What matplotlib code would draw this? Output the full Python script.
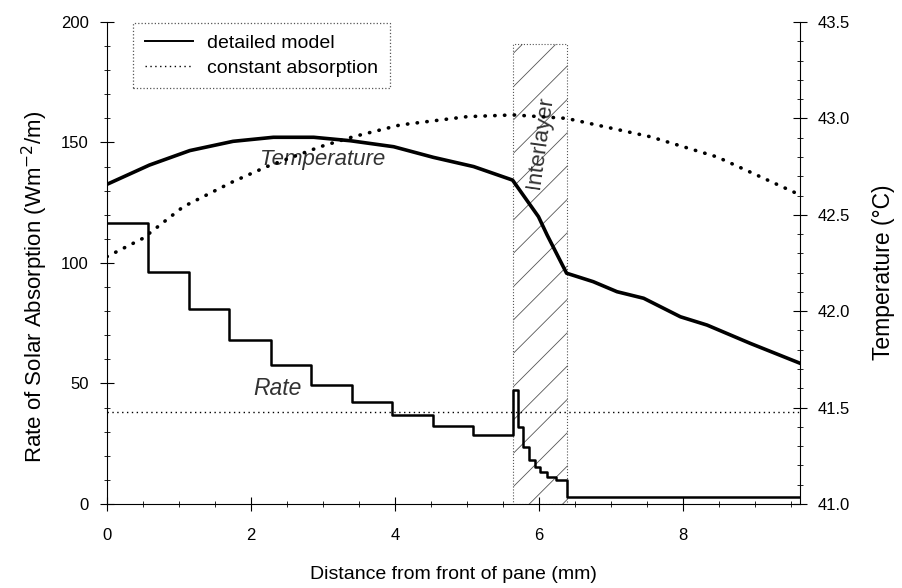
import numpy as np
import matplotlib.pyplot as plt
from matplotlib.lines import Line2D
from matplotlib.ticker import MultipleLocator

plt.rcParams['font.family'] = ['Liberation Sans', 'DejaVu Sans']
plt.rcParams['hatch.linewidth'] = 0.6
plt.rcParams['hatch.color'] = '#444444'

# rate of solar absorption, detailed model (step edges in mm, level per step)
rate_edges = [0, 0.57, 1.14, 1.70, 2.27, 2.83, 3.40, 3.96, 4.52, 5.08, 5.64,
              5.71, 5.78, 5.86, 5.94, 6.01, 6.11, 6.24, 6.39, 9.62]
rate_vals = [116.6, 96.3, 80.8, 67.9, 57.8, 49.2, 42.3, 36.8, 32.2, 28.5,
             47.3, 32.1, 23.5, 18.3, 15.5, 13.4, 11.3, 10.0, 3.0]
rate_const = 38.0

# temperature, detailed model
temp_x = [0, 0.59, 1.15, 1.75, 2.31, 2.87, 3.38, 3.98, 4.53, 5.09, 5.63,
          5.99, 6.11, 6.38, 6.75, 7.08, 7.45, 7.96, 8.33, 8.93, 9.62]
temp_y = [42.658, 42.758, 42.833, 42.881, 42.902, 42.902, 42.884, 42.853,
          42.798, 42.750, 42.680, 42.490, 42.395, 42.197, 42.153, 42.101,
          42.067, 41.971, 41.928, 41.833, 41.730]

# temperature, constant absorption
tc_x = [0, 0.5, 1.06, 1.75, 2.22, 2.96, 3.42, 4.07, 5.0, 5.64, 6.38,
        7.54, 8.47, 9.58]
tc_y = [42.283, 42.378, 42.542, 42.672, 42.750, 42.853, 42.905, 42.966,
        43.009, 43.018, 43.0, 42.905, 42.80, 42.61]

inter_x0, inter_x1, inter_top = 5.635, 6.38, 191

fig = plt.figure(figsize=(9.02, 5.88), dpi=100)
ax = fig.add_axes([0.1186, 0.1429, 0.7683, 0.8197])
ax2 = ax.twinx()

ax.bar(inter_x0, inter_top, width=inter_x1 - inter_x0, align='edge',
       fill=False, hatch='/', edgecolor='#555555', linewidth=0.8,
       linestyle=':', zorder=1)

ax.step(rate_edges, rate_vals + [rate_vals[-1]], where='post',
        color='black', lw=1.8, zorder=3)
ax.axhline(rate_const, color='black', lw=1.0, ls=(0, (1, 2.5)), zorder=2)

ax2.plot(temp_x, temp_y, color='black', lw=2.6, zorder=3)
ax2.plot(tc_x, tc_y, color='black', lw=2.6, ls=(0, (0.1, 2.6)),
         dash_capstyle='round', zorder=3)

ax.set_xlim(0, 9.62)
ax.set_ylim(0, 200)
ax2.set_ylim(41.0, 43.5)

ax.xaxis.set_major_locator(MultipleLocator(2))
ax.xaxis.set_minor_locator(MultipleLocator(0.5))
ax.yaxis.set_major_locator(MultipleLocator(50))
ax.yaxis.set_minor_locator(MultipleLocator(10))
ax2.yaxis.set_major_locator(MultipleLocator(0.5))
ax2.yaxis.set_minor_locator(MultipleLocator(0.1))
ax2.yaxis.set_major_formatter(plt.FormatStrFormatter('%.1f'))

for a in (ax, ax2):
    a.spines['top'].set_visible(False)
    a.tick_params(which='major', direction='inout', length=10, width=0.8,
                  labelsize=12, pad=8)
    a.tick_params(which='minor', direction='inout', length=4, width=0.6)
ax.tick_params(axis='x', which='major', pad=12)
ax.spines['right'].set_visible(False)
ax2.spines['left'].set_visible(False)
ax2.spines['bottom'].set_visible(False)

ax.set_xlabel('Distance from front of pane (mm)', fontsize=14)
ax.xaxis.set_label_coords(0.5, -0.128)
ax.set_ylabel('Rate of Solar Absorption (Wm$^{-2}$/m)', fontsize=16)
ax.yaxis.set_label_coords(-0.082, 0.45)
ax2.set_ylabel('Temperature (\u00b0C)', fontsize=16.5)
ax2.yaxis.set_label_coords(1.104, 0.48)

ax.text(3.0, 143, 'Temperature', style='italic', fontsize=16,
        color='#333333', ha='center', va='center', zorder=4)
ax.text(2.37, 48, 'Rate', style='italic', fontsize=16.5,
        color='#333333', ha='center', va='center', zorder=4)
ax.text(6.01, 150, 'Interlayer', fontsize=16, color='#333333',
        rotation=82, ha='center', va='center', zorder=4)

handles = [Line2D([], [], color='black', lw=1.4),
           Line2D([], [], color='black', lw=1.0, ls=(0, (1, 2.5)))]
leg = ax.legend(handles, ['detailed model', 'constant absorption'],
                loc='upper left', bbox_to_anchor=(0.0375, 0.998),
                borderaxespad=0, fontsize=14, handlelength=2.5,
                handletextpad=0.7, fancybox=False, framealpha=1,
                edgecolor='#555555', borderpad=0.6, labelspacing=0.35)
leg.get_frame().set_linestyle(':')
leg.get_frame().set_linewidth(0.9)

fig.savefig('out.png', dpi=100)
